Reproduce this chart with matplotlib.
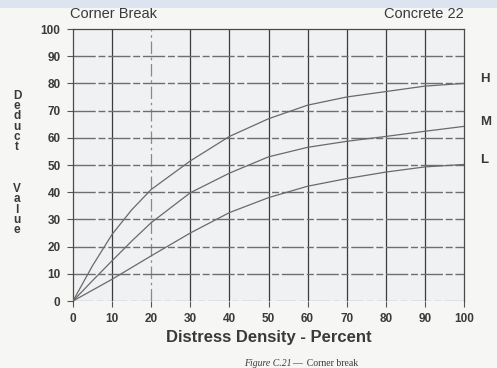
import matplotlib
matplotlib.use("Agg")
import matplotlib.pyplot as plt
from matplotlib.patches import Rectangle

# Deduct value curves for corner break, by severity level
density_h = [0, 5, 10, 15, 20, 30, 40, 50, 60, 70, 80, 90, 100]
deduct_h = [0, 13, 24.5, 33.5, 41, 51.5, 60.5, 67, 72, 75, 77, 79, 80]

density_m = [0, 5, 10, 15, 20, 30, 40, 50, 60, 70, 80, 90, 100]
deduct_m = [0, 7.5, 14.8, 22, 28.8, 39.8, 47, 53, 56.5, 58.7, 60.5, 62.4, 64.2]

density_l = [0, 5, 10, 20, 30, 40, 50, 60, 70, 80, 90, 100]
deduct_l = [0, 4, 8, 16.6, 25, 32.5, 38, 42.2, 45, 47.4, 49.3, 50.2]

severity_labels = ["H", "M", "L"]
x_ticks = list(range(0, 101, 10))
y_ticks = list(range(0, 101, 10))

text_color = "#3a3a3a"
font = "Liberation Sans"

fig = plt.figure(figsize=(4.97, 3.68), dpi=100, facecolor="#f6f6f5")
ax = fig.add_axes([73 / 497, 1 - 301 / 368, 391 / 497, 272 / 368])
ax.set_facecolor("#eff1f2")
ax.set_xlim(0, 100)
ax.set_ylim(0, 100)

# grid: solid verticals, broken horizontals
for xv in x_ticks[1:-1]:
    if xv == 20:
        ax.axvline(xv, color="#8a8a8a", lw=0.9, ls=(0, (10, 3, 2, 3)), zorder=1)
    else:
        ax.axvline(xv, color="#3c3c3c", lw=0.9, zorder=1)
for yv in y_ticks[1:-1]:
    ax.axhline(yv, color="#6e6e6e", lw=1.0, ls=(0, (16, 2, 5, 2)), zorder=1)
ax.axhline(0, color="#777777", lw=0.9, ls=(0, (16, 3, 5, 3)), zorder=1)

for d, v in ((density_h, deduct_h), (density_m, deduct_m), (density_l, deduct_l)):
    ax.plot(d, v, color="#6a6a6a", lw=0.9, zorder=3, solid_joinstyle="round")

for lab, v in zip(severity_labels, (deduct_h[-1], deduct_m[-1], deduct_l[-1])):
    ax.text(104, v + 1.5, lab, fontsize=9.5, color=text_color, family=font,
            fontweight="bold", ha="left", va="center", clip_on=False)

for side in ("top", "right", "left"):
    ax.spines[side].set_color("#4a4a4a")
    ax.spines[side].set_linewidth(0.9)
ax.spines["bottom"].set_visible(False)

ax.set_xticks(x_ticks)
ax.set_yticks(y_ticks)
ax.tick_params(axis="both", direction="out", length=4, width=0.8,
               color="#555555", labelcolor=text_color, labelsize=8.5, pad=5)
for lbl in ax.get_xticklabels() + ax.get_yticklabels():
    lbl.set_fontfamily(font)
    lbl.set_fontweight("bold")

ax.set_xlabel("Distress Density - Percent", fontsize=12, color=text_color,
              family=font, fontweight="bold", labelpad=3)

# stacked vertical y-axis label, one letter per line
stacked = "\n".join(list("Deduct") + ["", "", ""] + list("Value"))
fig.text(17 / 497, 1 - 163 / 368, stacked, fontsize=8.5, linespacing=0.82,
         color=text_color, family=font, fontweight="bold",
         ha="center", va="center", multialignment="center")

fig.text(70 / 497, 1 - 14 / 368, "Corner Break", fontsize=10.5, color=text_color,
         family=font, ha="left", va="center")
fig.text(464 / 497, 1 - 14 / 368, "Concrete 22", fontsize=10.5, color=text_color,
         family=font, ha="right", va="center")

fig.text(244 / 497, 1 - 367.5 / 368, "Figure C.21", fontsize=7, style="italic",
         color=text_color, family="Liberation Serif", ha="left", va="bottom")
fig.text(292 / 497, 1 - 367.5 / 368, "—  Corner break", fontsize=7,
         color=text_color, family="Liberation Serif", ha="left", va="bottom")

# light band along the top edge
fig.patches.append(Rectangle((0, 1 - 8 / 368), 1, 8 / 368, transform=fig.transFigure,
                             facecolor="#dce5ef", edgecolor="none", zorder=10))

fig.savefig("out.png", dpi=100, facecolor=fig.get_facecolor())
